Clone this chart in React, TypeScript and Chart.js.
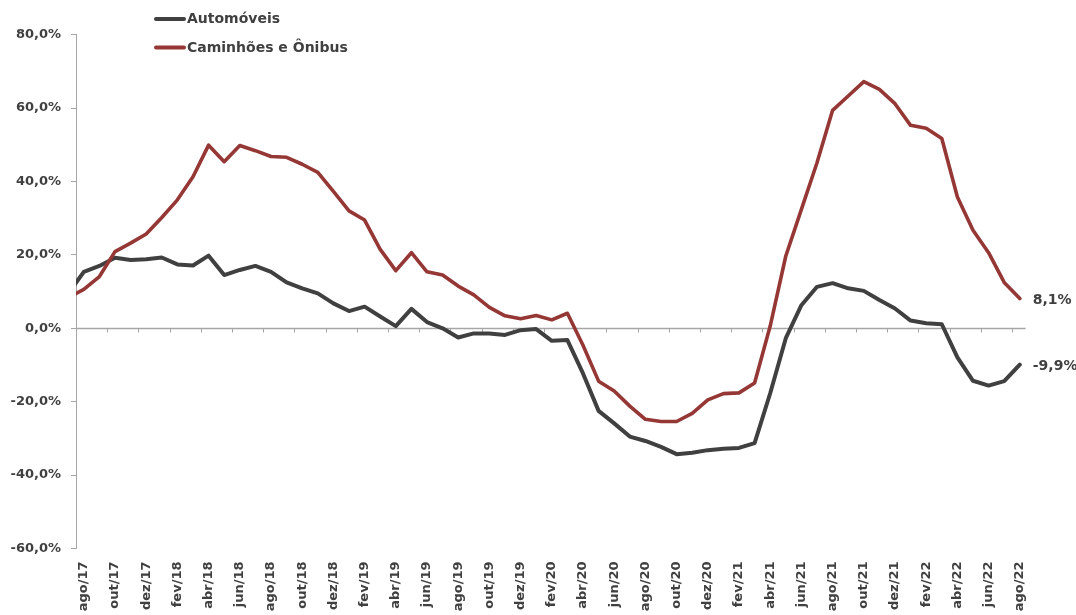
import React, { useEffect, useRef } from 'react';
import { Chart, registerables } from 'chart.js';

Chart.register(...registerables);

// Months, starting one month before the first labelled one (jul/17 lies left of the axis and is clipped)
const months = [
  'jul/17', 'ago/17', 'set/17', 'out/17', 'nov/17', 'dez/17',
  'jan/18', 'fev/18', 'mar/18', 'abr/18', 'mai/18', 'jun/18', 'jul/18', 'ago/18', 'set/18', 'out/18', 'nov/18', 'dez/18',
  'jan/19', 'fev/19', 'mar/19', 'abr/19', 'mai/19', 'jun/19', 'jul/19', 'ago/19', 'set/19', 'out/19', 'nov/19', 'dez/19',
  'jan/20', 'fev/20', 'mar/20', 'abr/20', 'mai/20', 'jun/20', 'jul/20', 'ago/20', 'set/20', 'out/20', 'nov/20', 'dez/20',
  'jan/21', 'fev/21', 'mar/21', 'abr/21', 'mai/21', 'jun/21', 'jul/21', 'ago/21', 'set/21', 'out/21', 'nov/21', 'dez/21',
  'jan/22', 'fev/22', 'mar/22', 'abr/22', 'mai/22', 'jun/22', 'jul/22', 'ago/22',
];

const automoveis = [
  9.4, 15.4, 17.0, 19.2, 18.6, 18.8, 19.3, 17.4, 17.1, 19.8, 14.5, 15.9, 17.0, 15.4, 12.5, 10.9,
  9.5, 6.8, 4.7, 5.9, 3.2, 0.6, 5.3, 1.7, 0.0, -2.5, -1.4, -1.4, -1.8, -0.5, -0.2, -3.4,
  -3.2, -12.3, -22.5, -25.9, -29.5, -30.7, -32.3, -34.3, -33.9, -33.2, -32.8, -32.6, -31.3, -17.7,
  -2.7, 6.3, 11.3, 12.3, 10.9, 10.2, 7.7, 5.4, 2.1, 1.4, 1.1, -7.9, -14.3, -15.6, -14.4, -9.9,
];

const caminhoes = [
  8.4, 10.6, 14.1, 20.9, 23.2, 25.7, 30.2, 35.0, 41.3, 49.9, 45.4, 49.8, 48.4, 46.8, 46.6, 44.7,
  42.5, 37.3, 32.0, 29.5, 21.5, 15.7, 20.6, 15.4, 14.5, 11.5, 9.1, 5.7, 3.4, 2.6, 3.5, 2.3,
  4.1, -4.6, -14.4, -17.1, -21.2, -24.8, -25.4, -25.4, -23.2, -19.5, -17.8, -17.6, -14.9, 0.6,
  19.7, 32.4, 45.1, 59.4, 63.3, 67.2, 65.1, 61.2, 55.3, 54.5, 51.7, 35.8, 26.7, 20.6, 12.5, 8.1,
];

const seriesNames = ['Automóveis', 'Caminhões e Ônibus'];
const seriesColors = ['#404040', '#953735'];

const yMin = -60;
const yMax = 80;
const yStep = 20;

const TEXT_COLOR = '#404040';
const AXIS_COLOR = '#a6a6a6';
const FONT_FAMILY = '"DejaVu Sans", "Liberation Sans", Arial, sans-serif';

const fmtPct = (v: number) => v.toFixed(1).replace('.', ',') + '%';

// x index: 0 = ago/17 (months[1]); jul/17 sits at -1
const toPoints = (vals: number[]) => vals.map((v, i) => ({ x: i - 1, y: v }));

const zeroAxisPlugin = {
  id: 'zeroAxis',
  beforeDatasetsDraw(chart: any) {
    const { ctx, chartArea } = chart;
    const x = chart.scales.x;
    const y = chart.scales.y;
    const y0 = Math.round(y.getPixelForValue(0)) + 0.5;
    ctx.save();
    ctx.strokeStyle = AXIS_COLOR;
    ctx.lineWidth = 1.5;
    ctx.beginPath();
    ctx.moveTo(chartArea.left, y0);
    ctx.lineTo(chartArea.right - 2, y0);
    ctx.stroke();
    ctx.lineWidth = 1;
    ctx.beginPath();
    for (let v = x.min; v < x.max; v += 2) {
      const px = Math.round(x.getPixelForValue(v)) + 0.5;
      ctx.moveTo(px, y0);
      ctx.lineTo(px, y0 + 4);
    }
    ctx.stroke();
    ctx.restore();
  },
};

const endLabelsPlugin = {
  id: 'endLabels',
  afterDatasetsDraw(chart: any) {
    const { ctx } = chart;
    ctx.save();
    ctx.font = `bold 14px ${FONT_FAMILY}`;
    ctx.fillStyle = TEXT_COLOR;
    ctx.textAlign = 'left';
    ctx.textBaseline = 'middle';
    chart.data.datasets.forEach((ds: any, di: number) => {
      const meta = chart.getDatasetMeta(di);
      const last = meta.data[meta.data.length - 1];
      const val = ds.data[ds.data.length - 1].y;
      ctx.fillText(fmtPct(val), last.x + 13, last.y + 2);
    });
    ctx.restore();
  },
};

const legendPlugin = {
  id: 'customLegend',
  afterDraw(chart: any) {
    const { ctx } = chart;
    ctx.save();
    ctx.font = `bold 14px ${FONT_FAMILY}`;
    ctx.textAlign = 'left';
    ctx.textBaseline = 'middle';
    const rows = [19, 47.5];
    seriesNames.forEach((name, i) => {
      const yy = rows[i];
      ctx.strokeStyle = seriesColors[i];
      ctx.lineWidth = 4;
      ctx.lineCap = 'round';
      ctx.beginPath();
      ctx.moveTo(156, yy);
      ctx.lineTo(184, yy);
      ctx.stroke();
      ctx.fillStyle = TEXT_COLOR;
      ctx.fillText(name, 187, yy + 0.5);
    });
    ctx.restore();
  },
};

export default function App() {
  const canvasRef = useRef<HTMLCanvasElement | null>(null);

  useEffect(() => {
    const canvas = canvasRef.current;
    if (!canvas) return;
    const chart = new Chart(canvas, {
      type: 'line',
      data: {
        datasets: [
          {
            label: seriesNames[0],
            data: toPoints(automoveis),
            borderColor: seriesColors[0],
            backgroundColor: seriesColors[0],
            borderWidth: 4,
            pointRadius: 0,
            tension: 0,
            borderJoinStyle: 'round',
            borderCapStyle: 'round',
            order: 1,
            clip: 0,
          },
          {
            label: seriesNames[1],
            data: toPoints(caminhoes),
            borderColor: seriesColors[1],
            backgroundColor: seriesColors[1],
            borderWidth: 3.6,
            pointRadius: 0,
            tension: 0,
            borderJoinStyle: 'round',
            borderCapStyle: 'round',
            order: 0,
            clip: 0,
          },
        ],
      } as any,
      options: {
        responsive: false,
        animation: false,
        events: [],
        layout: { padding: { top: 34.7, right: 48.4, bottom: 0, left: 0 } },
        plugins: {
          legend: { display: false },
          tooltip: { enabled: false },
        },
        scales: {
          x: {
            type: 'linear',
            min: -0.5,
            max: months.length - 1.5,
            afterBuildTicks: (scale: any) => {
              const ticks: any[] = [];
              for (let i = 1; i < months.length; i += 2) ticks.push({ value: i - 1 });
              scale.ticks = ticks;
            },
            afterFit: (scale: any) => {
              scale.height = 66.5;
            },
            ticks: {
              autoSkip: false,
              minRotation: 90,
              maxRotation: 90,
              padding: 13,
              color: TEXT_COLOR,
              font: { family: FONT_FAMILY, weight: 'bold', size: 13 },
              callback: (v: any) => months[Math.round(Number(v)) + 1],
            },
            grid: { display: false, drawTicks: false },
            border: { display: false },
          },
          y: {
            type: 'linear',
            min: yMin,
            max: yMax,
            afterFit: (scale: any) => {
              scale.width = 76;
            },
            ticks: {
              stepSize: yStep,
              padding: 10,
              color: TEXT_COLOR,
              font: { family: FONT_FAMILY, weight: 'bold', size: 13 },
              callback: (v: any) => fmtPct(Number(v)),
            },
            grid: {
              drawOnChartArea: false,
              drawTicks: true,
              tickLength: 5,
              color: AXIS_COLOR,
            },
            border: { display: true, color: AXIS_COLOR, width: 1 },
          },
        },
      } as any,
      plugins: [zeroAxisPlugin, endLabelsPlugin, legendPlugin],
    });
    return () => chart.destroy();
  }, []);

  return (
    <div style={{ position: 'fixed', left: 0, top: 0, width: 1076, height: 615, background: '#ffffff' }}>
      <canvas ref={canvasRef} width={1076} height={615} style={{ display: 'block' }} />
    </div>
  );
}
